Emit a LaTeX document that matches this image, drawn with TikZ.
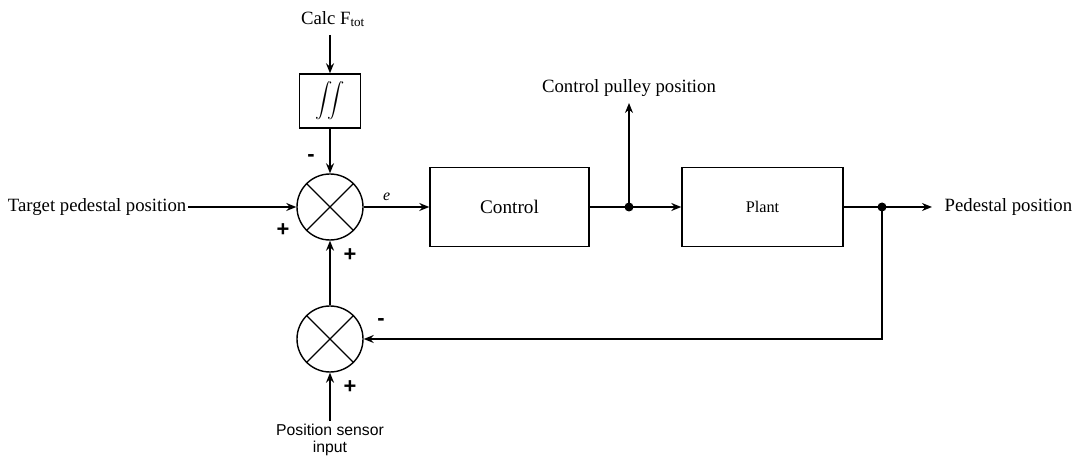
\documentclass[tikz,border=0pt]{standalone}
\usepackage{amsmath}
\usepackage{fontspec}
\setmainfont{Liberation Serif}
\setsansfont{Liberation Sans}
\usetikzlibrary{arrows.meta}
\begin{document}
\begin{tikzpicture}[x=1bp,y=-1bp,
  line width=1.4bp,
  arr/.style={-{Stealth[length=10bp,width=8bp]}},
  blk/.style={draw,rectangle,inner sep=0pt,anchor=center},
  sumj/.style={draw,circle,minimum size=66bp,inner sep=0pt},
  lbl/.style={font=\fontsize{18.8}{22}\selectfont,inner sep=1bp},
  sgn/.style={font=\sffamily\bfseries\fontsize{22}{22}\selectfont,inner sep=0pt},
  dotc/.style={circle,fill,inner sep=0pt,minimum size=9bp}]
\useasboundingbox (0,0) rectangle (1074,457);

% blocks
\node[sumj] (s1) at (330,207) {};
\node[sumj] (s2) at (330,339) {};
\foreach \s in {s1,s2}{
  \draw[line width=1.1bp] (\s.45) -- (\s.225);
  \draw[line width=1.1bp] (\s.135) -- (\s.-45);
}
\node[blk,minimum width=61bp,minimum height=54bp] (int) at (330,101) {\fontsize{16.5}{18}\selectfont$\displaystyle\iint$};
\node[blk,minimum width=159bp,minimum height=79bp] (ctl) at (509.5,207) {\fontsize{19.3}{22}\selectfont Control};
\node[blk,minimum width=161bp,minimum height=79bp] (plt) at (762.5,207) {\fontsize{16.3}{18}\selectfont Plant};

% texts
\node[lbl] (calc) at (333,19) {Calc F\textsubscript{tot}};
\node[lbl,anchor=east] (tgt) at (188,207) {Target pedestal position};
\node[lbl] (cpp) at (629,88) {Control pulley position};
\node[lbl,anchor=west] (ped) at (943,207) {Pedestal position};
\node[font=\sffamily\fontsize{15.8}{17}\selectfont,align=center,inner sep=0pt] (psi) at (330,440) {Position sensor\\input};

% junction points
\node[dotc] (d1) at (629,207) {};
\node[dotc] (d2) at (882,207) {};
\coordinate (cppb) at (629,103);
\coordinate (calcb) at (330,35);
\coordinate (psit) at (330,421);
\coordinate (pedl) at (932,207);
\coordinate (fbc) at (882,339);

% connectors
\draw[arr] (calcb) -- (int.north);
\draw[arr] (int.south) -- (s1.north);
\draw[arr] (tgt.east) -- (s1.west);
\draw[arr] (s1.east) -- node[above,font=\itshape\fontsize{16}{18}\selectfont,pos=0.35,yshift=2bp] (elbl) {e} (ctl.west);
\draw (ctl.east) -- (d1.center);
\draw[arr] (d1.center) -- (plt.west);
\draw[arr] (d1.center) -- (cppb);
\draw (plt.east) -- (d2.center);
\draw[arr] (d2.center) -- (pedl);
\draw[arr] (d2.center) -- (fbc) -- (s2.east);
\draw[arr] (s2.north) -- (s1.south);
\draw[arr] (psit) -- (s2.south);

% signs
\node[sgn] (m1) at (311,158) {-};
\node[sgn] (p1) at (283,230) {+};
\node[sgn] (p2) at (350,255) {+};
\node[sgn] (m2) at (381,322) {-};
\node[sgn] (p3) at (350,387) {+};
\end{tikzpicture}
\end{document}
